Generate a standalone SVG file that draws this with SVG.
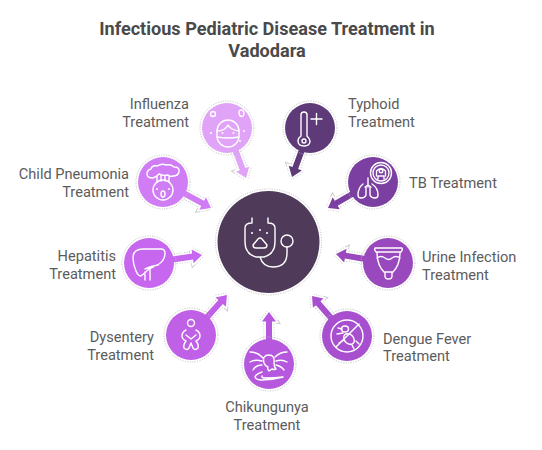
<svg xmlns="http://www.w3.org/2000/svg" xmlns:xlink="http://www.w3.org/1999/xlink" width="542" height="450" viewBox="0 0 542 450">
<style>
text{font-family:Roboto,"Liberation Sans",sans-serif;font-size:14.600px;fill:#5c5c5c}
.t{font-size:18.100px;font-weight:700;fill:#4a4a4a;text-anchor:middle}
.e{text-anchor:end}.m{text-anchor:middle}
.halo{fill:none;stroke:#bdbdbd;stroke-width:1;stroke-dasharray:1 1.5}
.i{fill:none;stroke:#fff;stroke-width:1.4;stroke-linecap:round;stroke-linejoin:round}
.h0{fill:#fff;stroke:#c4c4c4;stroke-width:5;stroke-dasharray:1 1.5}
.h1{fill:#fff;stroke:#fff;stroke-width:3.4}
</style>
<defs>
<path id="arrow" d="M-50 -3H-9.500V-7L0 0L-9.500 7V3H-50Z"/>
<g id="a"><use xlink:href="#arrow" class="h0"/><use xlink:href="#arrow" class="h1"/></g>
</defs>
<text class="t" x="267" y="35">Infectious Pediatric Disease Treatment in</text>
<text class="t" x="267" y="57">Vadodara</text>
<g id="connectors">
<g transform="translate(246 178) rotate(69.200)" fill="#e0a3f7"><use xlink:href="#a"/><use xlink:href="#arrow"/></g>
<g transform="translate(211 208) rotate(28.400)" fill="#d07df5"><use xlink:href="#a"/><use xlink:href="#arrow"/></g>
<g transform="translate(292 177) rotate(110.200)" fill="#5e3a78"><use xlink:href="#a"/><use xlink:href="#arrow"/></g>
<g transform="translate(328 208) rotate(150)" fill="#7a3fa0"><use xlink:href="#a"/><use xlink:href="#arrow"/></g>
<g transform="translate(202 255) rotate(-8.600)" fill="#c766ee"><use xlink:href="#a"/><use xlink:href="#arrow"/></g>
<g transform="translate(227 295) rotate(-48)" fill="#bf60e6"><use xlink:href="#a"/><use xlink:href="#arrow"/></g>
<g transform="translate(269 312) rotate(-90)" fill="#b558dd"><use xlink:href="#a"/><use xlink:href="#arrow"/></g>
<g transform="translate(312 296) rotate(229)" fill="#a84fcf"><use xlink:href="#a"/><use xlink:href="#arrow"/></g>
<g transform="translate(336 254) rotate(189.800)" fill="#9a48bd"><use xlink:href="#a"/><use xlink:href="#arrow"/></g>
</g>
<g id="center">
<circle class="halo" cx="268.500" cy="242" r="53"/><circle cx="268.500" cy="242" r="51" fill="#4f3a5a"/>
<path class="i" d="M252 218v5q-7 0-7 5v14q0 12 11 15h8q11-3 11-15v-14q0-5-7-5v-5M260 257q3 10 13 10q14 0 14-14v-6"/>
<circle class="i" cx="287" cy="241" r="6"/>
<path class="i" d="M253 245l5-6q2-2 4 0l5 6q0 3-3 3h-8q-3 0-3-3z"/>
<circle cx="252" cy="233" r="1" fill="#fff"/><circle cx="260" cy="230" r="1" fill="#fff"/><circle cx="267" cy="233" r="1" fill="#fff"/>
</g>
<g id="influenza">
<circle class="halo" cx="227" cy="128" r="27"/><circle cx="227" cy="128" r="25" fill="#e0a3f7"/>
<rect class="i" x="217" y="120" width="22" height="27" rx="11"/>
<path class="i" d="M217 131q8 0 11-6q3 5 11 6M217 137q6 1 11 1q5 0 11-1M222 133h1M233 133h1"/>
<circle class="i" cx="213" cy="114" r="2.500"/><path class="i" d="M239 113q0-3 2-3q3 0 3 3q0 2-1 3q-3 2-4-3z"/>
<circle cx="211" cy="133" r="1" fill="#fff"/><circle cx="240" cy="141" r="1" fill="#fff"/><circle cx="244" cy="131" r="1" fill="#fff"/>
<text class="e" x="189" y="109">Influenza</text><text class="e" x="189" y="127">Treatment</text>
</g>
<g id="pneumonia">
<circle class="halo" cx="163" cy="182" r="27"/><circle cx="163" cy="182" r="25" fill="#d07df5"/>
<path class="i" d="M153 178q-6 0-6-4q0-4 4-5q1-4 6-3q5-3 9-1q5-1 8 2q6 0 5 5q-1 4-6 4q-3 1-5-1q-5 1-9-1q-3 3-6 4zM157 176v6M161 176v5M165 176v5M169 177v5"/>
<circle class="i" cx="163" cy="190" r="10"/>
<ellipse class="i" cx="163" cy="194" rx="2" ry="3"/><circle cx="157" cy="189" r="1" fill="#fff"/><circle cx="169" cy="189" r="1" fill="#fff"/>
<text class="e" x="129" y="179">Child Pneumonia</text><text class="e" x="129" y="197">Treatment</text>
</g>
<g id="typhoid">
<circle class="halo" cx="310" cy="128" r="27"/><circle cx="310" cy="128" r="25" fill="#5e3a78"/>
<path class="i" d="M301 136v-21q0-3 3-3q3 0 3 3v21q3 3 3 5q0 5-6 5q-6 0-6-5q0-3 3-5z"/><circle class="i" cx="304" cy="141" r="2"/>
<path class="i" d="M311 119h11M316.500 113.500v11"/>
<text x="348" y="109">Typhoid</text><text x="348" y="127">Treatment</text>
</g>
<g id="tb">
<circle class="halo" cx="373" cy="182" r="27"/><circle cx="373" cy="182" r="25" fill="#7a3fa0"/>
<circle class="i" cx="381" cy="173" r="10.500"/><circle class="i" cx="381" cy="173" r="8" stroke-width="0.800"/>
<path class="i" d="M376.500 176v-5q4.500-5 9 0v5M378 179v-3h6v3" stroke-width="1"/><circle class="i" cx="381" cy="171" r="1.800" stroke-width="1"/>
<path class="i" d="M368 178v9M368 185l-3 2M368 185l3 2M363 184q-5 4-5 11q0 3 3 3q4 0 5-3v-8M372 184q6 4 6 11q0 3-3 3q-4 0-5-3v-8"/>
<text x="409" y="188">TB Treatment</text>
</g>
<g id="hepatitis">
<circle class="halo" cx="149" cy="263" r="27"/><circle cx="149" cy="263" r="25" fill="#c766ee"/>
<path class="i" d="M133 258q0-9 10-9h18q4 0 4 4q0 7-6 11q-5 3-10 5q-4 4-8 7q-3 0-5-5q-3-7-3-13zM145 269q6-3 13-4M145 272v8M150 269v11"/>
<text class="e" x="116" y="261">Hepatitis</text><text class="e" x="116" y="279">Treatment</text>
</g>
<g id="dysentery">
<circle class="halo" cx="191" cy="335" r="27"/><circle cx="191" cy="335" r="25" fill="#bf60e6"/>
<circle class="i" cx="191" cy="323" r="3.500"/>
<path class="i" d="M186 330q-4 2-4 6q0 3 4 5q-3 4-2 7q3 3 5 0l2-5l2 5q2 3 5 0q1-3-2-7q4-2 4-5q0-4-4-6M186 335l5 4l5-4"/>
<text class="e" x="154" y="342">Dysentery</text><text class="e" x="154" y="360">Treatment</text>
</g>
<g id="chikungunya">
<circle class="halo" cx="269" cy="364" r="27"/><circle cx="269" cy="364" r="25" fill="#b558dd"/>
<path class="i" d="M264 363q-2-8 5-8q6 0 5 8q0 4 2 6q-2 1-4 0l-3 2q-2-2-1-4q-3-1-4-4zM263 358q-5-6-13-6M262 361q-7-2-12 1M262 365q-6 0-9 5M275 357q5-5 12-5M276 361q6-2 11 1M276 365q5 1 8 5M262 372q-6 2-7 5q1 3 7 3q10 0 21-3q-9 1-17 1q-5 0-4-2"/>
<text class="m" x="267" y="412">Chikungunya</text><text class="m" x="267" y="430">Treatment</text>
</g>
<g id="dengue">
<circle class="halo" cx="347" cy="336" r="27"/><circle cx="347" cy="336" r="25" fill="#a84fcf"/>
<circle class="i" cx="347" cy="336" r="16"/><path class="i" d="M336 347l23-23"/>
<ellipse class="i" cx="345" cy="329" rx="3.500" ry="3"/><ellipse class="i" cx="349" cy="339" rx="6" ry="4.500" transform="rotate(45 349 339)"/>
<path class="i" d="M342 329l-4-1M343 333l-6 1M344 340l-5 3M352 345l2 4M356 341l3 3"/>
<text x="383" y="344">Dengue Fever</text><text x="383" y="361">Treatment</text>
</g>
<g id="urine">
<circle class="halo" cx="388" cy="263" r="27"/><circle cx="388" cy="263" r="25" fill="#9a48bd"/>
<path class="i" d="M375 248h27q1 2-1 4h-25q-2-2-1-4zM377 252q0 13 7 20h9q7-7 7-20M377 258q4-3 8 0q4 3 7 0q4-3 8 0M385 272v4q0 3 3.500 3q3.500 0 3.500-3v-4"/>
<text x="422" y="262">Urine Infection</text><text x="422" y="280">Treatment</text>
</g>
</svg>
